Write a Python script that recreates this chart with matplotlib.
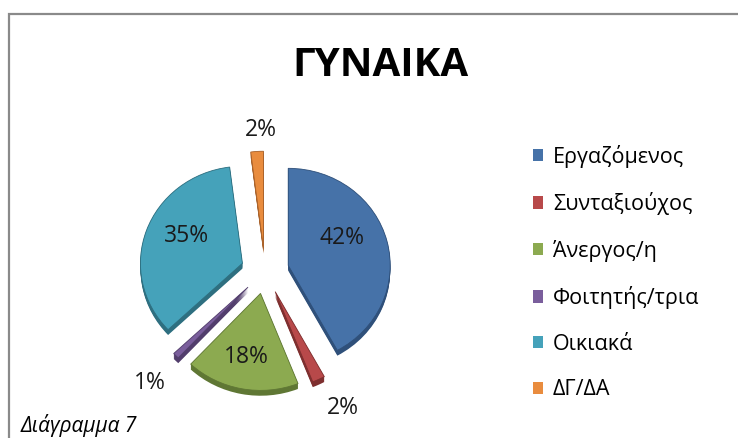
import numpy as np
import matplotlib
matplotlib.use("Agg")
import matplotlib.pyplot as plt
from matplotlib.patches import Wedge, Rectangle, Patch

plt.rcParams['font.family'] = ['Open Sans', 'DejaVu Sans']

categories = ["Εργαζόμενος", "Συνταξιούχος", "Άνεργος/η", "Φοιτητής/τρια", "Οικιακά", "ΔΓ/ΔΑ"]
values = [42, 2, 18, 1, 35, 2]
pct_labels = ["42%", "2%", "18%", "1%", "35%", "2%"]
title = "ΓΥΝΑΙΚΑ"
caption = "Διάγραμμα 7"

colors = ["#4672A8", "#B8494A", "#8CAA50", "#7A5E9C", "#45A2BA", "#E98C3E"]
shadow_colors = ["#2F507A", "#7E2F2F", "#5F7734", "#523E6C", "#2E6F80", "#A8612A"]
# label placement relative to the exploded slice centre
label_r = [0.60, 1.37, 0.67, 1.38, 0.62, 1.22]
label_dtheta = [13.6, 3.8, -1.4, 0.8, -7.1, -2.5]

W, H = 738, 438
fig = plt.figure(figsize=(W / 100, H / 100), dpi=100)
ax = fig.add_axes([0, 0, 1, 1])
ax.set_axis_off()

cx_px, cy_px = 265, 271   # pie centre (pixels from top-left)
sx, sy = 102, 97          # pixels per unit
ax.set_xlim(-cx_px / sx, (W - cx_px) / sx)
ax.set_ylim(-(H - cy_px) / sy, cy_px / sy)

explode = 0.235
total = sum(values)
start = 90.0
depth = 0.055
for i, v in enumerate(values):
    sweep = 360.0 * v / total
    t2 = start
    t1 = start - sweep
    mid_deg = (t1 + t2) / 2
    mid = np.deg2rad(mid_deg)
    ox, oy = explode * np.cos(mid), explode * np.sin(mid)
    # 3D side (shadow)
    for k in np.linspace(depth, 0.005, 6):
        ax.add_patch(Wedge((ox, oy - k), 1.0, t1, t2, facecolor=shadow_colors[i],
                           edgecolor='none', zorder=2))
    ax.add_patch(Wedge((ox, oy), 1.0, t1, t2, facecolor=colors[i],
                       edgecolor=shadow_colors[i], linewidth=0.6, zorder=3))
    r = label_r[i]
    la = np.deg2rad(mid_deg + label_dtheta[i])
    ax.text(ox + r * np.cos(la), oy + r * np.sin(la), pct_labels[i],
            ha='center', va='center', fontsize=16.5, color='#1a1a1a', zorder=5)
    start = t1

# title
fig.text(380 / W, 1 - 66 / H, title, ha='center', va='center',
         fontsize=29, fontweight='bold', color='black')

# legend
handles = [Patch(facecolor=c, edgecolor='none') for c in colors]
fig.legend(handles, categories, loc='upper left', bbox_to_anchor=(524 / W, 1 - 136 / H),
           frameon=False, fontsize=15.5, handlelength=0.5, handleheight=0.5,
           handletextpad=0.45, labelspacing=1.14, borderaxespad=0)

# frame border
fig.patches.append(Rectangle((9 / W, -0.1), 1.2, (1 - 14 / H) + 0.1,
                             transform=fig.transFigure, fill=False,
                             edgecolor='#8a8a8a', linewidth=1.6))

fig.text(21 / W, 1 / H, caption, ha='left', va='bottom', fontsize=15,
         fontstyle='italic', color='black')

fig.savefig("out.png", dpi=100, facecolor='white')
